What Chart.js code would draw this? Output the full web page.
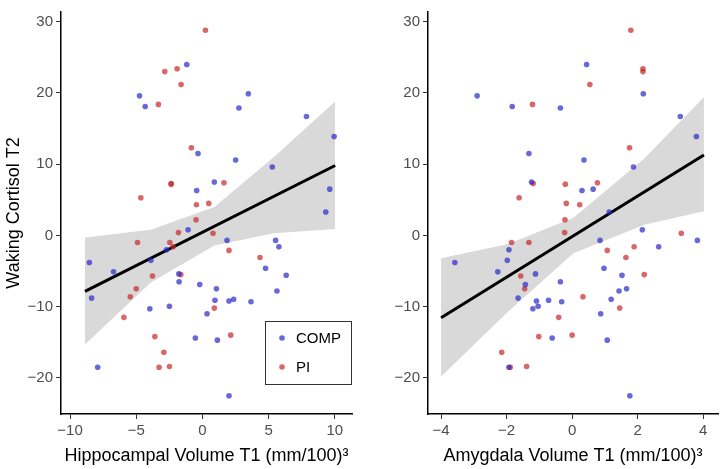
<!DOCTYPE html>
<html>
<head>
<meta charset="utf-8">
<script src="https://cdn.jsdelivr.net/npm/chart.js@4.4.1/dist/chart.umd.min.js"></script>
<style>
  body { margin: 0; background: #fff; }
  #wrap { position: relative; width: 722px; height: 469px; }
  canvas { position: absolute; top: 0; }
</style>
</head>
<body>
<div id="wrap">
  <canvas id="hippoChart" width="360" height="469" style="left:0"></canvas>
  <canvas id="amygChart" width="362" height="469" style="left:360px"></canvas>
</div>
<script>
// waking cortisol T2 (shared y values), per group
const compCortisol = [24.0, 19.6, 18.1, 19.9, 17.9, 16.7, 13.9, 11.5, 10.6, 9.6, 7.5, 6.3, 6.5, 3.3, 0.8, -0.7, -0.7, -1.6, -2.0, -3.8, -3.5, -5.1, -5.4, -6.5, -6.9, -4.6, -5.6, -7.5, -7.8, -8.8, -9.1, -9.2, -8.95, -9.3, -10.3, -9.95, -11.0, -14.4, -14.7, -18.5, -22.5];
const piCortisol = [28.8, 23.0, 23.4, 21.2, 18.4, 12.3, 7.3, 7.2, 7.4, 5.3, 4.3, 4.5, 2.2, 0.4, 0.3, -1.0, -1.0, -1.6, -2.1, -3.1, -5.7, -5.5, -7.5, -8.6, -11.5, -10.2, -14.2, -14.0, -16.4, -18.5, -18.4];

// hippocampal volume T1
const compHippo = [-1.18, -4.75, -4.32, 3.47, 2.76, 7.86, 9.95, -0.33, 2.51, 5.28, 0.90, -0.43, 9.62, 9.32, -1.08, 1.86, 5.53, 5.78, -2.71, -8.54, -3.89, -6.71, -1.78, -1.76, -0.20, 4.77, 6.33, 1.06, 5.63, -8.37, 0.95, 2.01, 2.36, 3.67, -3.97, -2.49, 0.35, -0.53, 1.13, -7.91, 2.01];
const piHippo = [0.23, -2.84, -1.91, -1.61, -3.32, -0.83, -2.36, -2.36, 1.63, -4.65, -0.45, 0.48, -0.48, -1.81, 0.80, -4.9, -2.46, -2.21, 2.01, 4.35, -3.77, -1.63, -5.0, -5.45, -5.93, 0.90, -3.59, 2.14, -2.91, -3.27, -2.49];

// amygdala volume T1
const compAmyg = [0.44, -2.9, -1.83, 2.17, -0.36, 3.30, 3.79, -1.32, 0.36, 1.87, -1.24, 0.30, 0.64, 1.13, 2.14, 0.85, 3.82, 2.64, -1.93, -3.58, -1.98, -2.27, -1.12, -0.36, -1.43, 0.97, 1.52, 1.66, 1.43, -1.65, -0.72, -1.09, 1.19, -0.32, -1.20, -1.04, 0.87, -0.61, 1.07, -1.93, 1.76];
const piAmyg = [1.79, 2.16, 2.16, 0.54, -1.21, 1.75, -1.19, -0.21, 0.77, -1.62, 0.23, -0.18, -0.22, -0.23, 3.33, -1.85, -1.32, 1.89, 1.07, 1.64, -1.57, 2.20, -1.45, 0.33, -0.41, 1.45, -1.02, 0.00, -2.15, -1.89, -1.39];

// fitted line + confidence band
const hippoFitX = [-8.87, 10.03];
const hippoFitY = [-7.86, 9.82];
const hippoBandX = [-8.87, -3.9, 0.9, 5.4, 10.03];
const hippoBandUpper = [-0.3, 0.8, 4.0, 11.0, 18.8];
const hippoBandLower = [-15.3, -6.6, -1.4, 0.3, 0.9];

const amygFitX = [-4.0, 4.02];
const amygFitY = [-11.55, 11.3];
const amygBandX = [-4.0, -1.96, 0.04, 2.2, 4.02];
const amygBandUpper = [-3.2, -1.2, 2.5, 10.8, 19.4];
const amygBandLower = [-19.8, -10.7, -2.5, 1.5, 3.4];

const yTicks = [-20, -10, 0, 10, 20, 30];

const BLUE = 'rgba(40, 40, 200, 0.7)';
const RED = 'rgba(200, 40, 40, 0.7)';
const FONT = "'Liberation Sans', Arial, sans-serif";

const pts = (xs, ys) => xs.map((x, i) => ({ x, y: ys[i] }));
const fmt = v => String(v).replace('-', '\u2212');

function buildDatasets(compX, piX, fitX, fitY, bandX, up, lo) {
  return [
    { label: 'COMP', type: 'scatter', data: pts(compX, compCortisol), backgroundColor: BLUE,
      pointRadius: 2.8, pointBorderWidth: 0, order: 0 },
    { label: 'PI', type: 'scatter', data: pts(piX, piCortisol), backgroundColor: RED,
      pointRadius: 2.8, pointBorderWidth: 0, order: 0 },
    { label: 'fit', type: 'line', data: pts(fitX, fitY), borderColor: '#000', borderWidth: 3,
      pointRadius: 0, fill: false, order: 1 },
    { label: 'upper', type: 'line', data: pts(bandX, up), borderWidth: 0, pointRadius: 0,
      backgroundColor: 'rgb(217, 217, 217)', fill: '+1', order: 2 },
    { label: 'lower', type: 'line', data: pts(bandX, lo), borderWidth: 0, pointRadius: 0,
      fill: false, order: 2 }
  ];
}

// legend box inside the left panel
const insetLegend = {
  id: 'insetLegend',
  afterDraw(chart, args, opts) {
    if (!opts.show) return;
    const ctx = chart.ctx;
    const a = chart.chartArea;
    const x0 = a.right - 87, y0 = a.bottom - 93;
    ctx.save();
    ctx.fillStyle = '#fff';
    ctx.fillRect(x0, y0, 86, 63);
    ctx.strokeStyle = '#333';
    ctx.lineWidth = 1;
    ctx.strokeRect(x0 + 0.5, y0 + 0.5, 86, 63);
    ctx.font = '15px ' + FONT;
    ctx.textBaseline = 'middle';
    [['COMP', BLUE, 17], ['PI', RED, 46]].forEach(([t, c, dy]) => {
      ctx.fillStyle = c;
      ctx.beginPath();
      ctx.arc(x0 + 17, y0 + dy, 2.8, 0, Math.PI * 2);
      ctx.fill();
      ctx.fillStyle = '#000';
      ctx.fillText(t, x0 + 31, y0 + dy + 1);
    });
    ctx.restore();
  }
};

function makeChart(id, cfg) {
  const ctx = document.getElementById(id).getContext('2d');
  return new Chart(ctx, {
    type: 'scatter',
    data: { datasets: cfg.datasets },
    plugins: [insetLegend],
    options: {
      responsive: false,
      animation: false,
      layout: { padding: { top: 2, right: cfg.padRight, bottom: 0, left: 0 } },
      plugins: {
        legend: { display: false },
        tooltip: { enabled: false },
        insetLegend: { show: cfg.legend }
      },
      scales: {
        x: {
          type: 'linear',
          min: cfg.xMin, max: cfg.xMax,
          afterFit: s => { s.height = 55; },
          afterBuildTicks: s => { s.ticks = cfg.xTicks.map(v => ({ value: v })); },
          grid: { display: true, drawOnChartArea: false, drawTicks: true, tickLength: 5, color: '#333', lineWidth: 1 },
          border: { display: true, color: '#000', width: 1.5 },
          ticks: { color: '#4d4d4d', font: { family: FONT, size: 15 }, padding: 3, callback: fmt },
          title: { display: true, text: cfg.xTitle, color: '#000', font: { family: FONT, size: 18 },
                   padding: { top: 0, bottom: 2 } }
        },
        y: {
          type: 'linear',
          min: -25.07, max: 31.37,
          afterFit: s => { s.width = cfg.yWidth; },
          afterBuildTicks: s => { s.ticks = yTicks.map(v => ({ value: v })); },
          grid: { display: true, drawOnChartArea: false, drawTicks: true, tickLength: 5, color: '#333', lineWidth: 1 },
          border: { display: true, color: '#000', width: 1.5 },
          ticks: { color: '#4d4d4d', font: { family: FONT, size: 15 }, padding: 3, callback: fmt },
          title: { display: cfg.yTitle !== '', text: cfg.yTitle, color: '#000', font: { family: FONT, size: 18 },
                   padding: { top: 3, bottom: 0 } }
        }
      }
    }
  });
}

makeChart('hippoChart', {
  datasets: buildDatasets(compHippo, piHippo, hippoFitX, hippoFitY, hippoBandX, hippoBandUpper, hippoBandLower),
  xMin: -10.68, xMax: 11.3, xTicks: [-10, -5, 0, 5, 10],
  xTitle: 'Hippocampal Volume T1 (mm/100)\u00b3',
  yTitle: 'Waking Cortisol T2', yWidth: 61, padRight: 8, legend: true
});

makeChart('amygChart', {
  datasets: buildDatasets(compAmyg, piAmyg, amygFitX, amygFitY, amygBandX, amygBandUpper, amygBandLower),
  xMin: -4.4, xMax: 4.45, xTicks: [-4, -2, 0, 2, 4],
  xTitle: 'Amygdala Volume T1 (mm/100)\u00b3',
  yTitle: '', yWidth: 68, padRight: 2, legend: false
});
</script>
</body>
</html>
